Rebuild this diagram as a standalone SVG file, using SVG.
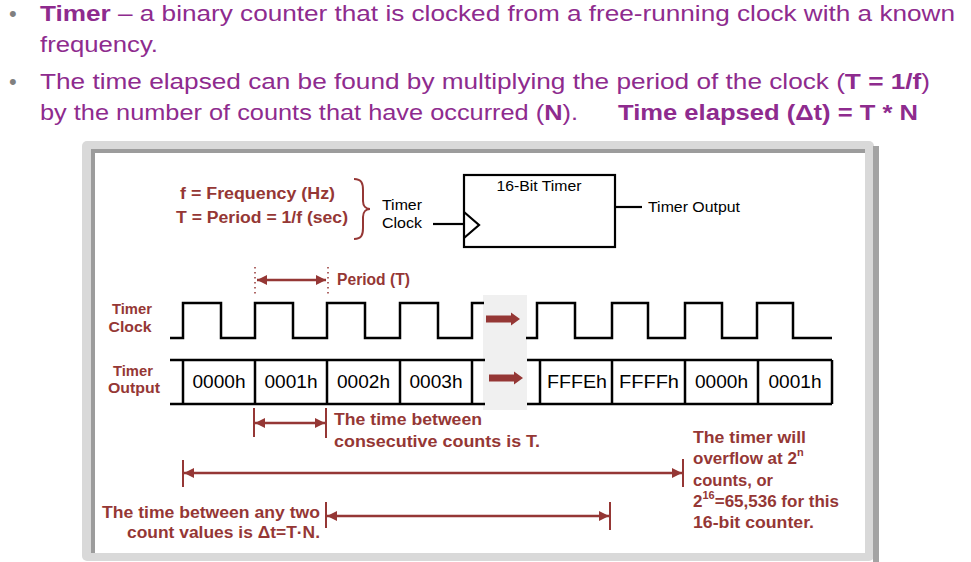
<svg xmlns="http://www.w3.org/2000/svg" width="971" height="562" viewBox="0 0 971 562">
<defs>
<style>
.hdr{font-family:"Liberation Sans",Arial,sans-serif;font-size:22px;fill:#8e2b8e}
.b{font-weight:bold}
.bul{font-family:"Liberation Sans",Arial,sans-serif;font-size:22px;fill:#808080}
.red{font-family:"Liberation Sans",Arial,sans-serif;font-weight:bold;fill:#953735}
.blk{font-family:"Liberation Sans",Arial,sans-serif;fill:#000}
.bus{font-family:"Liberation Sans",Arial,sans-serif;font-size:18px;fill:#000;text-anchor:middle}
.wave{fill:none;stroke:#000;stroke-width:2.5}
.arr{stroke:#953735;stroke-width:2.5;fill:none}
.tick{stroke:#953735;stroke-width:2}
.dot{stroke:#953735;stroke-width:1.5;stroke-dasharray:1.5 3.5}
</style>
<marker id="ah" viewBox="0 0 10 10" refX="10" refY="5" markerWidth="11" markerHeight="10" markerUnits="userSpaceOnUse" orient="auto-start-reverse"><path d="M0,0 L10,5 L0,10 z" fill="#953735"/></marker>
</defs>
<rect width="971" height="562" fill="#fff"/>

<g id="header">
<text class="bul" x="9" y="21">•</text>
<text class="hdr" x="40" y="21" textLength="915" lengthAdjust="spacingAndGlyphs"><tspan class="b">Timer</tspan> – a binary counter that is clocked from a free-running clock with a known</text>
<text class="hdr" x="40" y="52" textLength="118" lengthAdjust="spacingAndGlyphs">frequency.</text>
<text class="bul" x="9" y="89">•</text>
<text class="hdr" x="40" y="89" textLength="890" lengthAdjust="spacingAndGlyphs">The time elapsed can be found by multiplying the period of the clock (<tspan class="b">T = 1/f</tspan>)</text>
<text class="hdr" x="40" y="120" textLength="538" lengthAdjust="spacingAndGlyphs">by the number of counts that have occurred (<tspan class="b">N</tspan>).</text>
<text class="hdr b" x="618" y="120" textLength="300" lengthAdjust="spacingAndGlyphs">Time elapsed (Δt) = T * N</text>
</g>

<g id="frame">
<rect x="82" y="141" width="792" height="420" rx="5" fill="#d9d9d9"/>
<rect x="873" y="146" width="6" height="416" fill="#a3a3a3"/>
<rect x="91" y="149" width="774" height="404" fill="#9c9c9c"/>
<rect x="95" y="153" width="770" height="400" fill="#fff"/>
<rect x="483" y="295" width="44" height="115" fill="#f0f0f0"/>
</g>

<g id="definitions">
<text class="red" font-size="16" x="180" y="199" textLength="155" lengthAdjust="spacingAndGlyphs">f = Frequency (Hz)</text>
<text class="red" font-size="16" x="176" y="223" textLength="172" lengthAdjust="spacingAndGlyphs">T = Period = 1/f (sec)</text>
<path d="M354,179 C362,179 363,184 363,190 L363,201 C363,206 366,209 370,209 C366,209 363,212 363,217 L363,228 C363,234 362,239 354,239" fill="none" stroke="#953735" stroke-width="2"/>
</g>

<g id="timer-clock-input">
<text class="blk" font-size="15.5" x="382" y="210" textLength="40" lengthAdjust="spacingAndGlyphs">Timer</text>
<text class="blk" font-size="15.5" x="382" y="228" textLength="40" lengthAdjust="spacingAndGlyphs">Clock</text>
</g>

<g id="timer-box">
<rect x="464" y="175" width="151" height="72" fill="#fff" stroke="#000" stroke-width="2.2"/>
<path d="M464,212 L479,225 L464,238" fill="none" stroke="#000" stroke-width="2.2"/>
<text class="blk" font-size="15.5" x="539" y="191" text-anchor="middle" textLength="85" lengthAdjust="spacingAndGlyphs">16-Bit Timer</text>
</g>

<g id="timer-output">
<text class="blk" font-size="15.5" x="648" y="212" textLength="92" lengthAdjust="spacingAndGlyphs">Timer Output</text>
</g>

<g id="connectors">
<line x1="433" y1="224" x2="464" y2="224" stroke="#000" stroke-width="2.2"/>
<line x1="615" y1="207" x2="642" y2="207" stroke="#000" stroke-width="2.2"/>
</g>

<g id="period">
<line class="dot" x1="255" y1="267" x2="255" y2="294"/>
<line class="dot" x1="328" y1="267" x2="328" y2="294"/>
<line class="arr" x1="257" y1="280" x2="326" y2="280" marker-start="url(#ah)" marker-end="url(#ah)"/>
<text class="red" font-size="16" x="337" y="285" textLength="73" lengthAdjust="spacingAndGlyphs">Period (T)</text>
</g>

<g id="clock-wave">
<text class="red" font-size="15" x="132" y="314" text-anchor="middle" textLength="40" lengthAdjust="spacingAndGlyphs">Timer</text>
<text class="red" font-size="15" x="130" y="332" text-anchor="middle" textLength="43" lengthAdjust="spacingAndGlyphs">Clock</text>
<path class="wave" d="M170,338 H183 V303 H221 V338 H255 V303 H293 V338 H327 V303 H365 V338 H400 V303 H438 V338 H472 V303 H484"/>
<path class="wave" d="M526,338 H537 V303 H575 V338 H612 V303 H648 V338 H685 V303 H722 V338 H757 V303 H793 V338 H832"/>
<path d="M486,315.5 H511 V312.5 L520,319 L511,325.5 V322.5 H486 Z" fill="#953735"/>
</g>

<g id="output-bus">
<text class="red" font-size="15" x="133" y="376" text-anchor="middle" textLength="40" lengthAdjust="spacingAndGlyphs">Timer</text>
<text class="red" font-size="15" x="134" y="393" text-anchor="middle" textLength="52" lengthAdjust="spacingAndGlyphs">Output</text>
<path class="wave" d="M170,360 H485 M170,404 H485 M183,360 V404 M255,360 V404 M327,360 V404 M400,360 V404 M472,360 V404"/>
<path class="wave" d="M527,360 H832 M527,404 H832 M540,360 V404 M612,360 V404 M685,360 V404 M758,360 V404 M832,360 V404"/>
<text class="bus" x="219" y="388" textLength="53" lengthAdjust="spacingAndGlyphs">0000h</text>
<text class="bus" x="291" y="388" textLength="53" lengthAdjust="spacingAndGlyphs">0001h</text>
<text class="bus" x="363.5" y="388" textLength="53" lengthAdjust="spacingAndGlyphs">0002h</text>
<text class="bus" x="436" y="388" textLength="53" lengthAdjust="spacingAndGlyphs">0003h</text>
<text class="bus" x="577" y="388" textLength="60" lengthAdjust="spacingAndGlyphs">FFFEh</text>
<text class="bus" x="649" y="388" textLength="60" lengthAdjust="spacingAndGlyphs">FFFFh</text>
<text class="bus" x="721.5" y="388" textLength="53" lengthAdjust="spacingAndGlyphs">0000h</text>
<text class="bus" x="795" y="388" textLength="53" lengthAdjust="spacingAndGlyphs">0001h</text>
<path d="M489,374.5 H514 V371.5 L523,378 L514,384.5 V381.5 H489 Z" fill="#953735"/>
</g>

<g id="annotations">
<line class="tick" x1="254" y1="408" x2="254" y2="437"/>
<line class="tick" x1="326" y1="408" x2="326" y2="438"/>
<line class="arr" x1="255" y1="423" x2="325" y2="423" marker-start="url(#ah)" marker-end="url(#ah)"/>
<text class="red" font-size="17" x="334" y="425" textLength="148" lengthAdjust="spacingAndGlyphs">The time between</text>
<text class="red" font-size="17" x="334" y="447" textLength="206" lengthAdjust="spacingAndGlyphs">consecutive counts is T.</text>

<line class="tick" x1="183" y1="460" x2="183" y2="487"/>
<line class="tick" x1="683" y1="459" x2="683" y2="487"/>
<line class="arr" x1="184" y1="473" x2="682" y2="473" marker-start="url(#ah)" marker-end="url(#ah)"/>

<line class="tick" x1="326" y1="502" x2="326" y2="528"/>
<line class="tick" x1="610" y1="502" x2="610" y2="530"/>
<line class="arr" x1="327" y1="516" x2="609" y2="516" marker-start="url(#ah)" marker-end="url(#ah)"/>

<text class="red" font-size="17" x="320" y="518" text-anchor="end" textLength="218" lengthAdjust="spacingAndGlyphs">The time between any two</text>
<text class="red" font-size="17" x="320" y="538" text-anchor="end" textLength="193" lengthAdjust="spacingAndGlyphs">count values is Δt=T·N.</text>

<text class="red" font-size="17" x="693" y="443" textLength="113" lengthAdjust="spacingAndGlyphs">The timer will</text>
<text class="red" font-size="17" x="693" y="464">overflow at 2<tspan font-size="11" dy="-8">n</tspan></text>
<text class="red" font-size="17" x="693" y="486" textLength="80" lengthAdjust="spacingAndGlyphs">counts, or</text>
<text class="red" font-size="17" x="693" y="507">2<tspan font-size="11" dy="-8">16</tspan><tspan dy="8">=65,536 for this</tspan></text>
<text class="red" font-size="17" x="693" y="528" textLength="121" lengthAdjust="spacingAndGlyphs">16-bit counter.</text>
</g>
</svg>
